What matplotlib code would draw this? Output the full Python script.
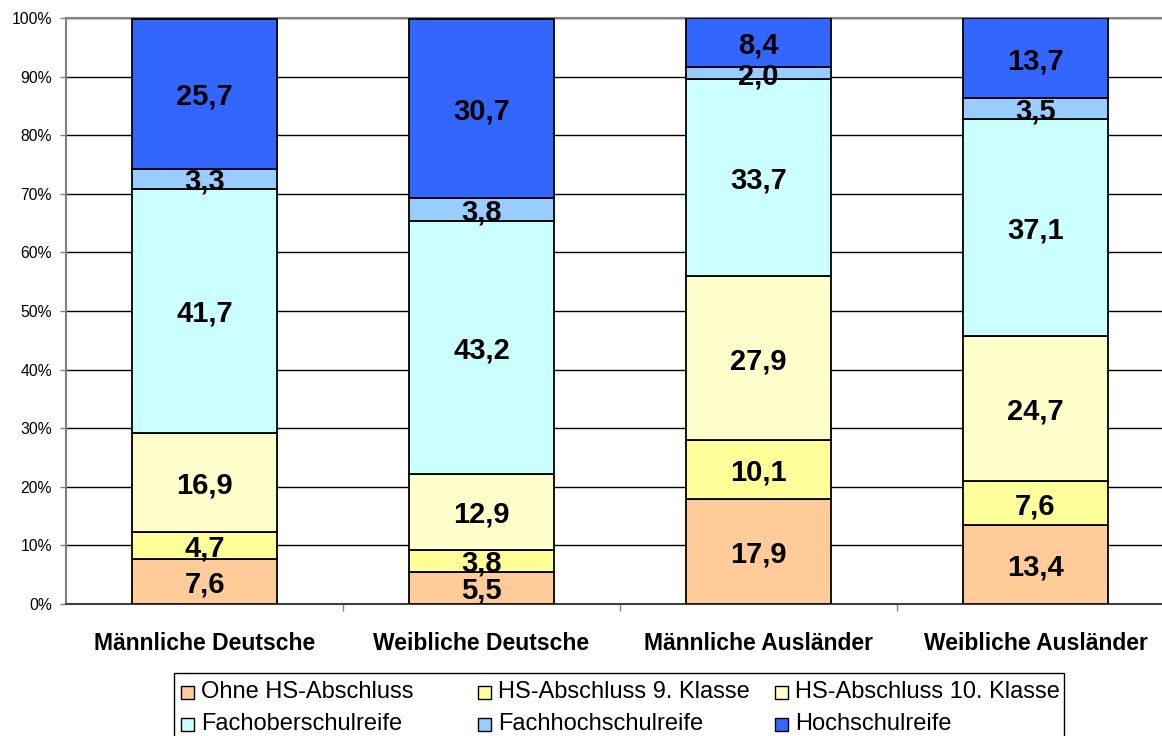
import matplotlib
matplotlib.use("Agg")
import matplotlib.pyplot as plt
from matplotlib.patches import Rectangle
import numpy as np

plt.rcParams['font.family'] = ['Liberation Sans', 'DejaVu Sans']

# Data
groups = ["Männliche Deutsche", "Weibliche Deutsche", "Männliche Ausländer", "Weibliche Ausländer"]
series_names = ["Ohne HS-Abschluss", "HS-Abschluss 9. Klasse", "HS-Abschluss 10. Klasse",
                "Fachoberschulreife", "Fachhochschulreife", "Hochschulreife"]
ohne_hs = [7.6, 5.5, 17.9, 13.4]
hs_9 = [4.7, 3.8, 10.1, 7.6]
hs_10 = [16.9, 12.9, 27.9, 24.7]
fachoberschulreife = [41.7, 43.2, 33.7, 37.1]
fachhochschulreife = [3.3, 3.8, 2.0, 3.5]
hochschulreife = [25.7, 30.7, 8.4, 13.7]
colors = ["#FFCC99", "#FFFF99", "#FFFFCC", "#CCFFFF", "#99CCFF", "#3366FF"]
y_ticks = [0, 10, 20, 30, 40, 50, 60, 70, 80, 90, 100]

series = [ohne_hs, hs_9, hs_10, fachoberschulreife, fachhochschulreife, hochschulreife]

W, H = 1162, 736
fig = plt.figure(figsize=(W / 100, H / 100), dpi=100)
ax = fig.add_axes([66 / W, 1 - 604 / H, 1108 / W, 586 / H])

x = np.arange(len(groups))
bottom = np.zeros(len(groups))
for vals, col in zip(series, colors):
    vals = np.array(vals)
    ax.bar(x, vals, width=0.527, bottom=bottom, color=col, edgecolor="black",
           linewidth=1.3, zorder=3)
    for xi, b, v in zip(x, bottom, vals):
        ax.text(xi, b + v / 2, f"{v:.1f}".replace(".", ","), ha="center",
                va="center_baseline", fontsize=21, fontweight="bold", color="black",
                zorder=4)
    bottom += vals

ax.set_xlim(-0.5, len(groups) - 0.5)
ax.set_ylim(0, 100)

ax.set_yticks(y_ticks)
ax.set_yticklabels([f"{t}%" for t in y_ticks], fontsize=11.3)
ax.yaxis.grid(True, color="black", linewidth=1.0, zorder=0)
ax.set_axisbelow(True)
ax.tick_params(axis="y", direction="out", length=4, width=1, color="#808080", pad=6)

ax.set_xticks(x)
ax.set_xticklabels(groups, fontsize=16.5, fontweight="bold")
ax.set_xticks(np.arange(0.5, len(groups) - 0.5), minor=True)
ax.tick_params(axis="x", which="major", length=0, pad=20)
ax.tick_params(axis="x", which="minor", direction="out", length=5, width=1, color="#808080")

for side in ["left", "top"]:
    ax.spines[side].set_color("#808080")
    ax.spines[side].set_linewidth(1.5)
ax.spines["bottom"].set_color("#404040")
ax.spines["bottom"].set_linewidth(1.5)
ax.spines["right"].set_visible(False)

# Legend in three equal-width columns, two rows
frame = Rectangle((174 / W, -0.02), (1064 - 174) / W, (736 - 673) / H + 0.02,
                  transform=fig.transFigure, facecolor="white", edgecolor="black",
                  linewidth=1.0, clip_on=False)
fig.add_artist(frame)
col_x = [181, 478, 775]
row_y = [692, 724]
box = 13
for i, (name, col) in enumerate(zip(series_names, colors)):
    cx = col_x[i % 3]
    cy = row_y[i // 3]
    sq = Rectangle((cx / W, 1 - (cy + box / 2) / H), box / W, box / H,
                   transform=fig.transFigure, facecolor=col, edgecolor="black",
                   linewidth=1.0)
    fig.add_artist(sq)
    fig.text((cx + box + 7) / W, 1 - cy / H, name, ha="left", va="center", fontsize=17)

fig.savefig("out.png", dpi=100)
